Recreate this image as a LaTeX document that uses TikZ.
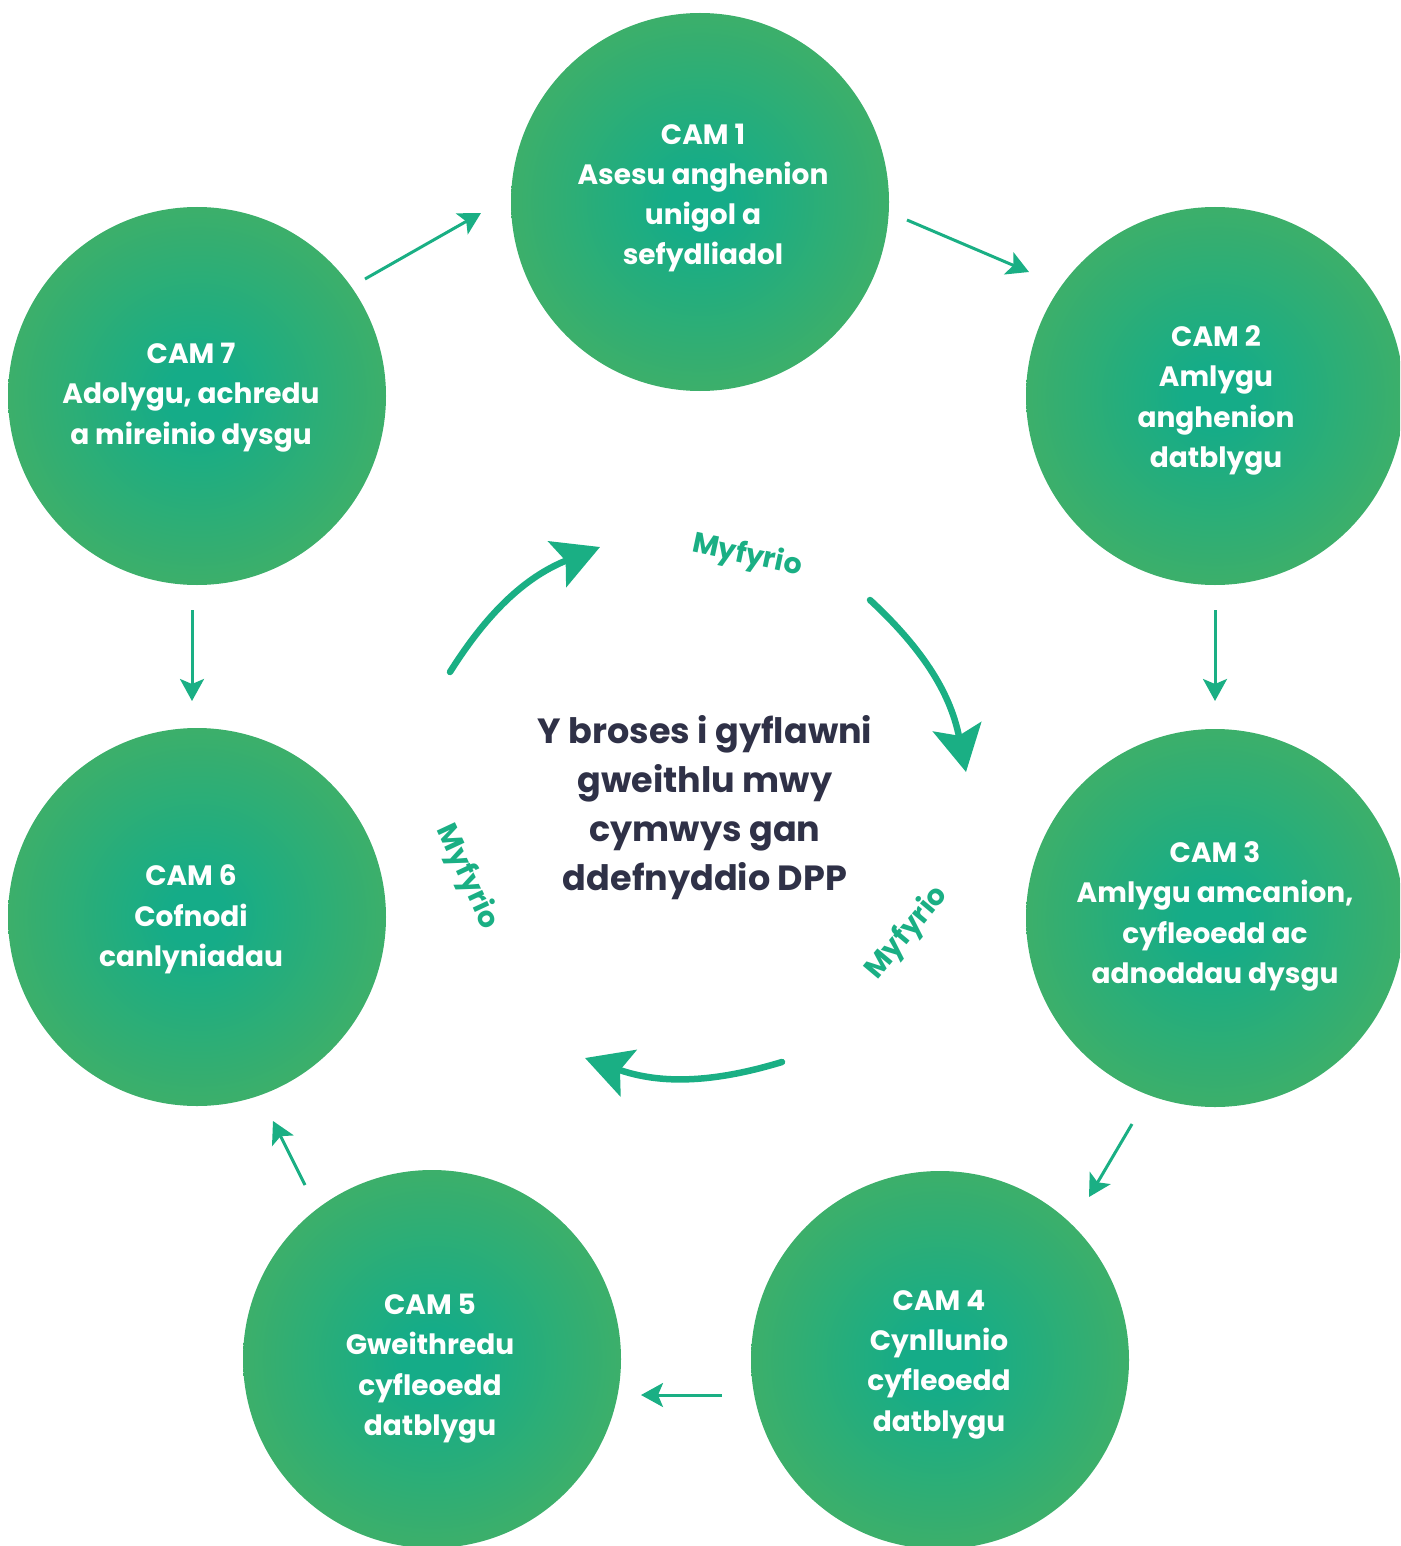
\documentclass[tikz,border=0pt]{standalone}
\usepackage{fontspec}
\setmainfont{Poppins}
\usetikzlibrary{arrows.meta}
\definecolor{camin}{HTML}{15AC88}
\definecolor{camout}{HTML}{3EAF69}
\definecolor{arrowc}{HTML}{1AAF84}
\definecolor{navy}{HTML}{2F3147}
\pgfdeclareradialshading{camshade}{\pgfpoint{0bp}{0bp}}{color(0bp)=(camin); color(4bp)=(camin); color(26bp)=(camout); color(50bp)=(camout)}
\begin{document}
\begin{tikzpicture}[x=1pt,y=1pt,
  cam/.style={circle, minimum size=378pt, inner sep=0pt, shading=camshade},
  camtext/.style={text=white, align=center, inner sep=0pt,
    font=\fontsize{28}{40.3}\selectfont\bfseries},
  sarrow/.style={draw=arrowc, line width=3pt, -{Stealth[length=22pt,width=24pt,inset=5pt]}},
  carrow/.style={draw=arrowc, line width=6.5pt, line cap=round, -{Stealth[length=46pt,width=49pt,inset=9pt]}},
  refl/.style={text=arrowc, font=\fontsize{28.5}{30}\selectfont\bfseries, inner sep=0pt},
  ]
\useasboundingbox (0,0) rectangle (1400,-1546);
\begin{scope}
\clip (0,0) rectangle (1400,-1546);
\node[cam] (c1) at (700,-202) {};
\node[cam] (c2) at (1215,-396) {};
\node[cam] (c3) at (1215,-918) {};
\node[cam] (c4) at (940,-1360) {};
\node[cam] (c5) at (432,-1359) {};
\node[cam] (c6) at (197,-917) {};
\node[cam] (c7) at (197,-396) {};
\end{scope}
\node[camtext] (t1) at (703,-198) {CAM 1\\Asesu anghenion\\unigol a\\sefydliadol};
\node[camtext] (t2) at (1216,-400.5) {CAM 2\\Amlygu\\anghenion\\datblygu};
\node[camtext] (t3) at (1215,-916.5) {CAM 3\\Amlygu amcanion,\\cyfleoedd ac\\adnoddau dysgu};
\node[camtext] (t4) at (939,-1364.5) {CAM 4\\Cynllunio\\cyfleoedd\\datblygu};
\node[camtext] (t5) at (430,-1368.5) {CAM 5\\Gweithredu\\cyfleoedd\\datblygu};
\node[camtext] (t6) at (191,-919.5) {CAM 6\\Cofnodi\\canlyniadau};
\node[camtext] (t7) at (191,-397.5) {CAM 7\\Adolygu, achredu\\a mireinio dysgu};
% straight arrows
\coordinate (s71) at (365,-279);  \coordinate (e71) at (481,-213);
\coordinate (s12) at (907,-220);  \coordinate (e12) at (1029,-272);
\coordinate (s23) at (1215,-610); \coordinate (e23) at (1215,-701);
\coordinate (s34) at (1132,-1124);\coordinate (e34) at (1089,-1197);
\coordinate (s45) at (722,-1395); \coordinate (e45) at (641,-1395);
\coordinate (s56) at (305,-1185); \coordinate (e56) at (273,-1121);
\coordinate (s76) at (192,-610);  \coordinate (e76) at (192,-701);
\draw[sarrow] (s71) -- (e71);
\draw[sarrow] (s12) -- (e12);
\draw[sarrow] (s23) -- (e23);
\draw[sarrow] (s34) -- (e34);
\draw[sarrow] (s45) -- (e45);
\draw[sarrow] (s56) -- (e56);
\draw[sarrow] (s76) -- (e76);
% curved arrows
\coordinate (ca) at (450,-672);  \coordinate (cat) at (600,-547);
\coordinate (cb) at (870,-600);  \coordinate (cbt) at (966,-772);
\coordinate (cc) at (782,-1062); \coordinate (cct) at (585,-1058);
\draw[carrow] (ca) to[bend left=18] (cat);
\draw[carrow] (cb) to[bend left=18] (cbt);
\draw[carrow] (cc) to[bend left=18] (cct);
% reflection labels
\node[refl, rotate=-12] (m1) at (747,-556) {Myfyrio};
\node[refl, rotate=50] (m2) at (907,-933) {Myfyrio};
\node[refl, rotate=-65] (m3) at (467,-877) {Myfyrio};
% centre text
\node[text=navy, align=center, font=\fontsize{35}{49}\selectfont\bfseries] (ctr) at (705,-808)
  {Y broses i gyflawni\\gweithlu mwy\\cymwys gan\\ddefnyddio DPP};
\end{tikzpicture}
\end{document}
